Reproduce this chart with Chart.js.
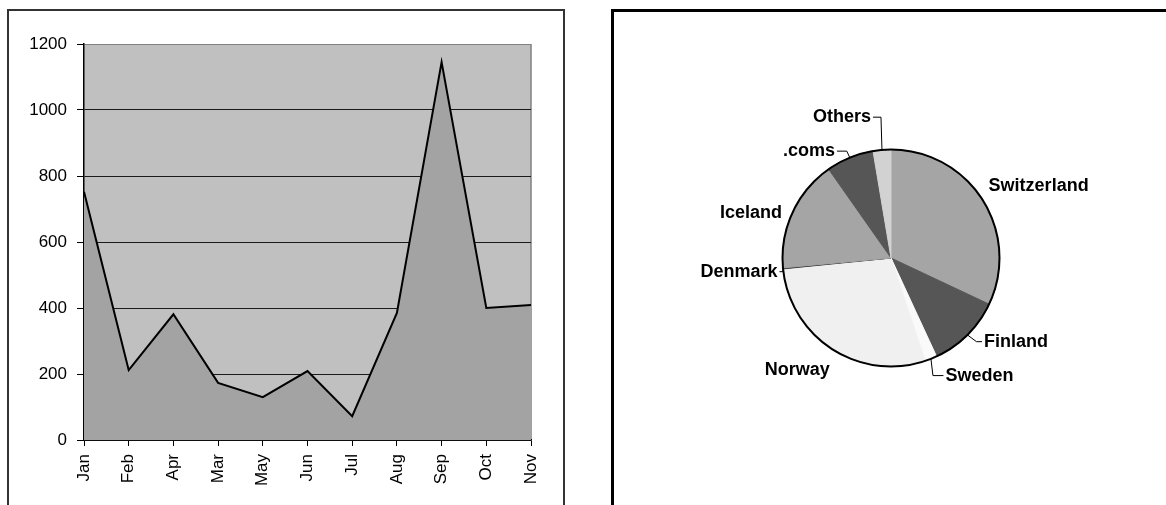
<!DOCTYPE html>
<html>
<head>
<meta charset="utf-8">
<script src="https://cdn.jsdelivr.net/npm/chart.js@4.4.1/dist/chart.umd.min.js"></script>
<style>
  html, body { margin: 0; padding: 0; background: #fff; overflow: hidden; width: 1166px; height: 505px; }
  .frame { position: absolute; box-sizing: border-box; }
  #leftFrame { left: 7px; top: 9px; width: 558px; height: 530px; border: 2px solid #333; }
  #rightFrame { left: 611px; top: 9px; width: 620px; height: 530px; border: 3px solid #000; }
  canvas { position: absolute; top: 0; }
  #areaChart { left: 0; }
  #pieChart { left: 600px; }
</style>
</head>
<body>
<div class="frame" id="leftFrame"></div>
<div class="frame" id="rightFrame"></div>
<canvas id="areaChart" width="600" height="505"></canvas>
<canvas id="pieChart" width="566" height="505"></canvas>
<script>
// Monthly totals (area chart)
const months = ['Jan', 'Feb', 'Apr', 'Mar', 'May', 'Jun', 'Jul', 'Aug', 'Sep', 'Oct', 'Nov'];
const monthlyValues = [752, 212, 381, 173, 130, 209, 72, 385, 1145, 400, 409];
const yTicks = [0, 200, 400, 600, 800, 1000, 1200];

// Share by country (pie chart), clockwise from 12 o'clock
const countries = ['Switzerland', 'Finland', 'Sweden', 'Norway', 'Denmark', 'Iceland', '.coms', 'Others'];
const shares = [32.0, 11.1, 1.8, 28.5, 0.15, 16.7, 7.1, 2.65];

const sliceColors = ['#a5a5a5', '#565656', '#fafafa', '#f0f0f0', '#3a3a3a', '#a5a5a5', '#565656', '#d2d2d2'];

// Label placement relative to the slice's outer midpoint; "leader" is the elbow x-offset
const pieLabelLayout = {
  'Switzerland': { dx: 6,     dy: -14,  align: 'left' },
  'Finland':     { dx: 16.5,  dy: 6.7,  align: 'left',  leader: 9 },
  'Sweden':      { dx: 14.5,  dy: 16.7, align: 'left',  leader: 2 },
  'Norway':      { dx: -34.8, dy: 20.6, align: 'center' },
  'Denmark':     { dx: -5.5,  dy: 3.3,  align: 'right', leader: 0 },
  'Iceland':     { dx: -10.5, dy: 0.7,  align: 'right' },
  '.coms':       { dx: -14.8, dy: -6.5, align: 'right', leader: -3 },
  'Others':      { dx: -11,   dy: -32.7, align: 'right', leader: -1 }
};

const FONT = '"Liberation Sans", Arial, Helvetica, sans-serif';

// Grey plot background and grey right edge
const plotBackground = {
  id: 'plotBackground',
  beforeDraw(chart) {
    const { ctx, chartArea: a } = chart;
    ctx.save();
    ctx.fillStyle = '#c0c0c0';
    ctx.fillRect(a.left, a.top, a.right - a.left, a.bottom - a.top);
    ctx.strokeStyle = '#808080';
    ctx.lineWidth = 1.5;
    ctx.beginPath();
    ctx.moveTo(a.right, a.top);
    ctx.lineTo(a.right, a.bottom);
    ctx.stroke();
    ctx.restore();
  }
};

new Chart(document.getElementById('areaChart'), {
  type: 'line',
  data: {
    labels: months,
    datasets: [{
      data: monthlyValues,
      fill: 'origin',
      backgroundColor: '#a3a3a3',
      borderColor: '#000',
      borderWidth: 2,
      pointRadius: 0,
      tension: 0
    }]
  },
  options: {
    responsive: false,
    animation: false,
    layout: { padding: { left: 0, top: 44, right: 69, bottom: 0 } },
    plugins: { legend: { display: false }, tooltip: { enabled: false } },
    scales: {
      x: {
        offset: false,
        grid: { drawOnChartArea: false, drawTicks: true, tickLength: 6, tickColor: '#000' },
        border: { color: '#000', width: 1.5 },
        ticks: {
          minRotation: 90, maxRotation: 90, autoSkip: false, padding: 8,
          color: '#000', font: { family: FONT, size: 17 }
        },
        afterFit(scale) { scale.height = 65; }
      },
      y: {
        min: 0,
        max: 1200,
        afterBuildTicks(scale) { scale.ticks = yTicks.map(v => ({ value: v })); },
        ticks: {
          padding: 10, color: '#000', font: { family: FONT, size: 17 },
          callback: v => String(v)
        },
        grid: {
          color: ctx => (ctx.tick && ctx.tick.value === 1200) ? '#808080' : '#1a1a1a',
          tickColor: '#000',
          tickLength: 7,
          lineWidth: 1
        },
        border: { color: '#000', width: 1.5 },
        afterFit(scale) { scale.width = 84; }
      }
    }
  },
  plugins: [plotBackground]
});

// Black outline around the whole pie only
const pieOutline = {
  id: 'pieOutline',
  afterDatasetsDraw(chart) {
    const arc = chart.getDatasetMeta(0).data[0];
    const ctx = chart.ctx;
    ctx.save();
    ctx.strokeStyle = '#000';
    ctx.lineWidth = 2;
    ctx.beginPath();
    ctx.arc(arc.x, arc.y, arc.outerRadius, 0, Math.PI * 2);
    ctx.stroke();
    ctx.restore();
  }
};

// Category labels around the pie, with leader lines where configured
const pieLabels = {
  id: 'pieLabels',
  afterDraw(chart) {
    const ctx = chart.ctx;
    const meta = chart.getDatasetMeta(0);
    ctx.save();
    ctx.font = 'bold 18px ' + FONT;
    ctx.fillStyle = '#000';
    ctx.strokeStyle = '#000';
    ctx.lineWidth = 1;
    ctx.textBaseline = 'middle';
    meta.data.forEach((arc, i) => {
      const name = chart.data.labels[i];
      const cfg = pieLabelLayout[name];
      if (!cfg) return;
      const mid = (arc.startAngle + arc.endAngle) / 2;
      const ex = arc.x + Math.cos(mid) * arc.outerRadius;
      const ey = arc.y + Math.sin(mid) * arc.outerRadius;
      const tx = ex + cfg.dx;
      const ty = ey + cfg.dy;
      if (cfg.leader !== undefined) {
        const endX = cfg.align === 'left' ? tx - 2 : tx + 2;
        ctx.beginPath();
        ctx.moveTo(ex, ey);
        ctx.lineTo(ex + cfg.leader, ty);
        ctx.lineTo(endX, ty);
        ctx.stroke();
      }
      ctx.textAlign = cfg.align;
      ctx.fillText(name, tx, ty);
    });
    ctx.restore();
  }
};

new Chart(document.getElementById('pieChart'), {
  type: 'pie',
  data: {
    labels: countries,
    datasets: [{
      data: shares,
      backgroundColor: sliceColors,
      borderColor: sliceColors,
      borderWidth: 1
    }]
  },
  options: {
    responsive: false,
    animation: false,
    layout: { padding: { left: 182, right: 166, top: 149, bottom: 138 } },
    plugins: { legend: { display: false }, tooltip: { enabled: false } }
  },
  plugins: [pieOutline, pieLabels]
});
</script>
</body>
</html>
